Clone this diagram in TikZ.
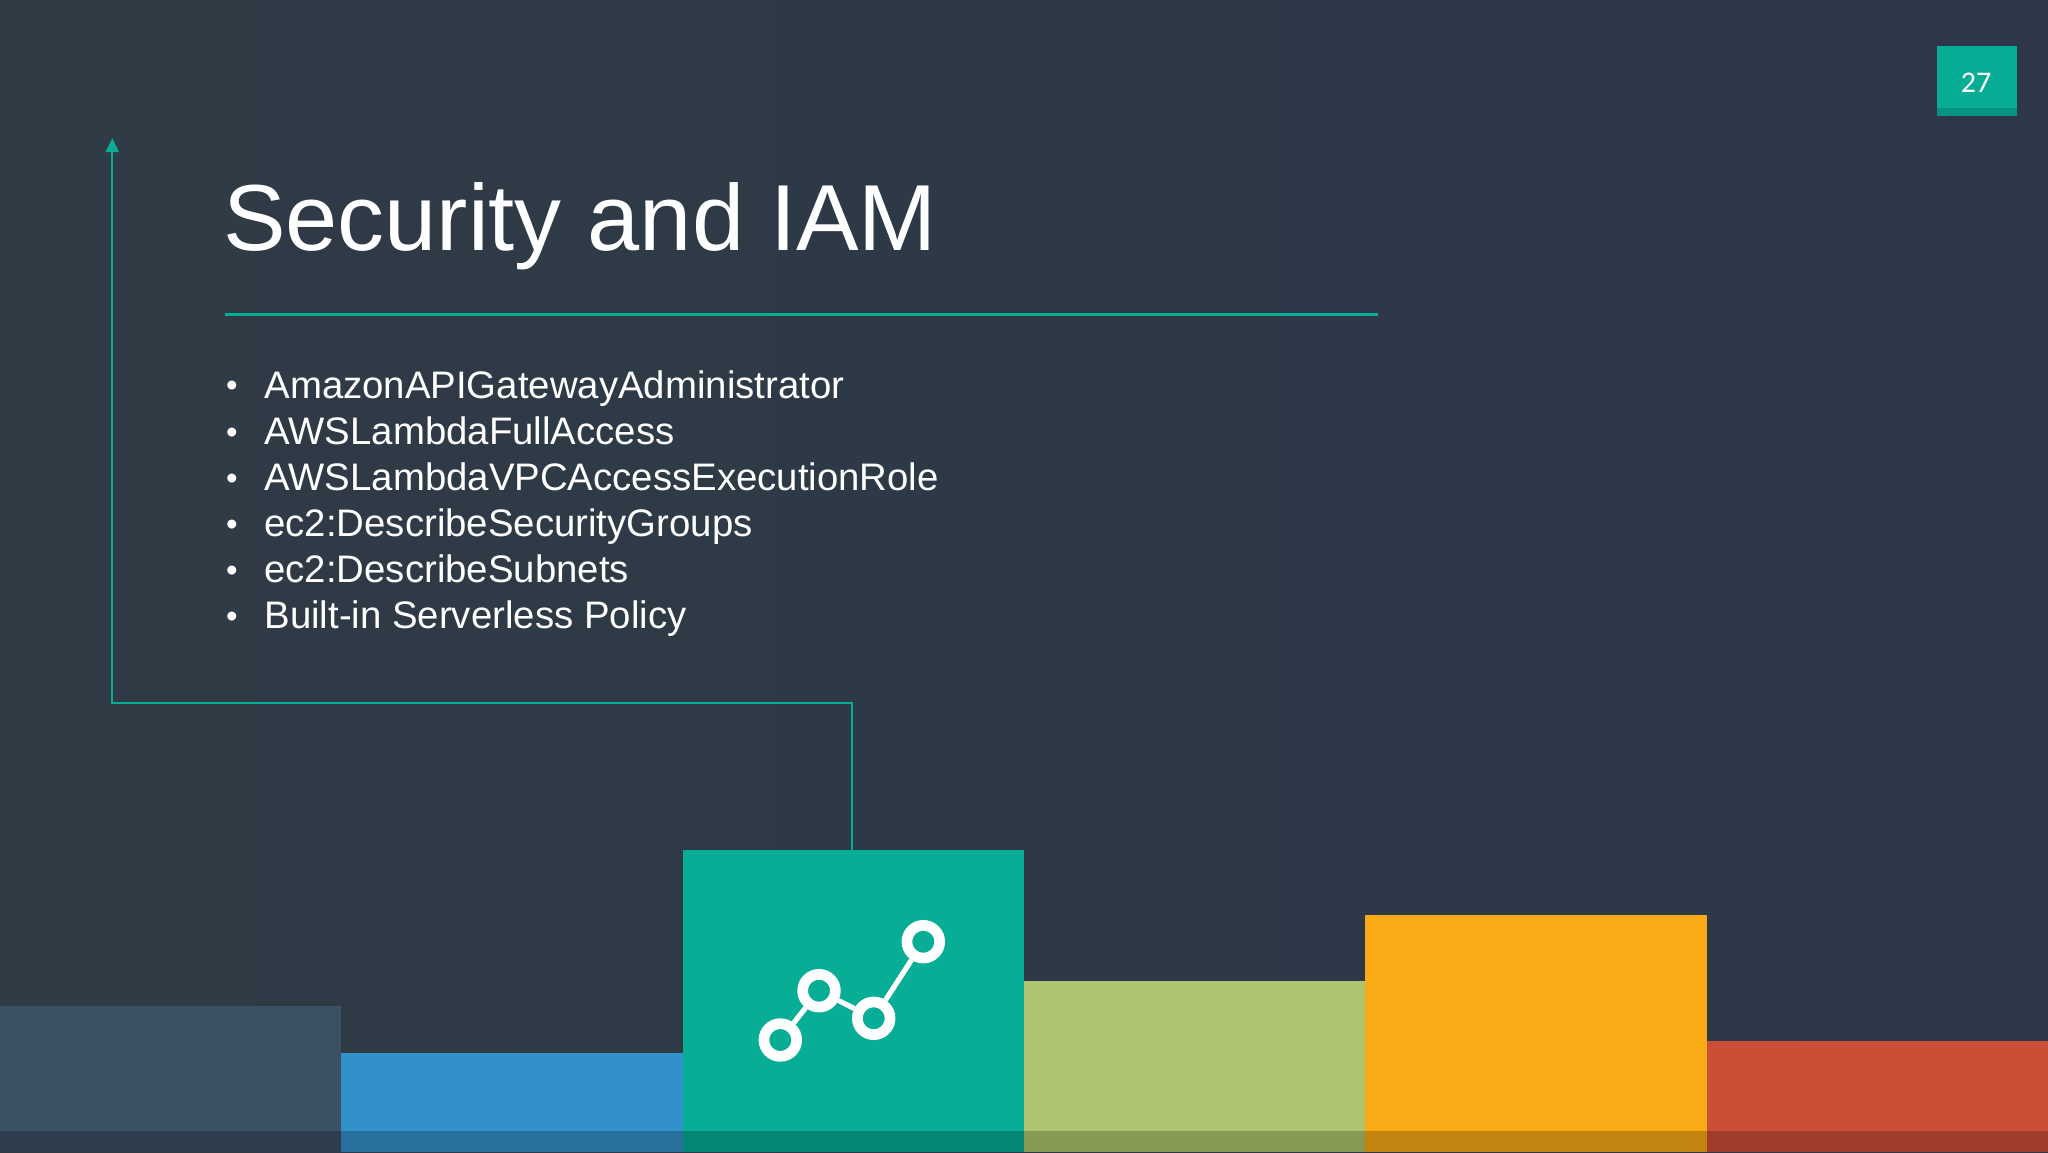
\documentclass[tikz,border=0pt]{standalone}
\usepackage{fontspec}
\setmainfont{Liberation Sans}
\newfontfamily\badgefont{Carlito}
\usetikzlibrary{arrows.meta,calc}
\definecolor{bgleft}{HTML}{2F3B45}
\definecolor{bgright}{HTML}{2D3749}
\definecolor{tealc}{HTML}{08AD96}
\definecolor{slatec}{HTML}{3C5064}
\definecolor{bluec}{HTML}{3391C9}
\definecolor{greenc}{HTML}{ACC56E}
\definecolor{orangec}{HTML}{FAAA14}
\definecolor{redc}{HTML}{CB4F36}
\tikzset{
  x=1pt,y=-1pt,
  bar/.style={anchor=north west,inner sep=0,outer sep=0,draw=none,minimum width=341.4pt},
  band/.style={fill=black,fill opacity=.22,draw=none},
  bullettext/.style={anchor=base west,inner sep=0,outer sep=0,text=white,font=\fontsize{38.35}{46}\selectfont},
  titletext/.style={anchor=base west,inner sep=0,outer sep=0,text=white,font=\fontsize{93.8}{100}\selectfont},
  conn/.style={draw=tealc,line width=2.2pt},
  ring/.style={circle,draw=white,line width=10.7pt,minimum size=32.7pt,inner sep=0,outer sep=5.35pt},
  link/.style={draw=white,line width=5.2pt},
}
\newcommand{\bulletline}[1]{\makebox[39.5pt][l]{\kern1pt\raisebox{1.5pt}{\fontsize{33}{46}\selectfont•}}#1}
\begin{document}
\begin{tikzpicture}
\useasboundingbox (0,0) rectangle (2048,1152);
\shade[left color=bgleft,right color=bgright] (0,0) rectangle (2048,1152);
% bars
\node[bar,fill=slatec,minimum height=146pt] (b1) at (0,1006) {};
\node[bar,fill=bluec,minimum height=99pt] (b2) at (341.4,1053) {};
\node[bar,fill=tealc,minimum height=302pt] (b3) at (682.6,850) {};
\node[bar,fill=greenc,minimum height=171pt] (b4) at (1024,981) {};
\node[bar,fill=orangec,minimum height=237.5pt] (b5) at (1365.4,914.5) {};
\node[bar,fill=redc,minimum height=111pt,minimum width=341pt] (b6) at (1707,1041) {};
\fill[band] (0,1131) rectangle (2048,1152);
% icon
\node[ring] (r1) at (780.3,1040) {};
\node[ring] (r2) at (819,990.7) {};
\node[ring] (r3) at (873.7,1018.3) {};
\node[ring] (r4) at (923.3,941.7) {};
\draw[link] (r1) -- (r2);
\draw[link] (r2) -- (r3);
\draw[link] (r3) -- (r4);
% connector
\coordinate (start) at (852.3,850);
\coordinate (bend) at (852.3,703);
\coordinate (tip) at (112.3,138);
\draw[conn,-{Triangle[length=14pt,width=12.7pt]}] (start) -- (bend) -| (tip);
% title
\node[titletext] (title) at (223,250.5) {Security and IAM};
\coordinate (ruleL) at (225,314.5);
\coordinate (ruleR) at (1378,314.5);
\draw[draw=tealc,line width=3pt] (ruleL) -- (ruleR);
% bullets
\node[bullettext] (l1) at (225,398.4) {\bulletline{AmazonAPIGatewayAdministrator}};
\node[bullettext] (l2) at (225,444.5) {\bulletline{AWSLambdaFullAccess}};
\node[bullettext] (l3) at (225,490.6) {\bulletline{AWSLambdaVPCAccessExecutionRole}};
\node[bullettext] (l4) at (225,536.7) {\bulletline{ec2:DescribeSecurityGroups}};
\node[bullettext] (l5) at (225,582.8) {\bulletline{ec2:DescribeSubnets}};
\node[bullettext] (l6) at (225,628.9) {\bulletline{Built-in Serverless Policy}};
% badge
\node[anchor=north west,fill=tealc,inner sep=0,outer sep=0,minimum width=80pt,minimum height=70pt] (badge) at (1936.7,45.7) {};
\fill[fill=black,fill opacity=.15] (1936.7,108.3) rectangle (2016.7,115.7);
\node[anchor=base,text=white,inner sep=0,font=\badgefont\fontsize{30}{32}\selectfont] (num) at (1976,92.5) {27};
\end{tikzpicture}
\end{document}
